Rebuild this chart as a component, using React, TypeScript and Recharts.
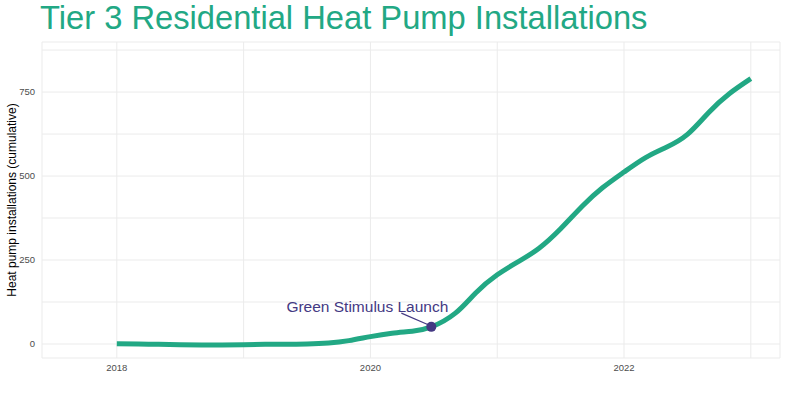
import React from 'react';
import {
  LineChart,
  Line,
  XAxis,
  YAxis,
  CartesianGrid,
  ReferenceDot,
  ReferenceLine,
} from 'recharts';

// decimal year of each reading
const years = [
  2018.0, 2018.17, 2018.33, 2018.5, 2018.67, 2018.83, 2019.0, 2019.17, 2019.33, 2019.5,
  2019.67, 2019.83, 2020.0, 2020.17, 2020.33, 2020.48, 2020.67, 2020.83, 2021.0, 2021.17,
  2021.33, 2021.5, 2021.67, 2021.83, 2022.0, 2022.17, 2022.33, 2022.5, 2022.67, 2022.83,
  2023.0,
];

// cumulative installations
const installs = [
  1, 0, -1, -2, -3, -3, -2, -1, -1, 0,
  3, 10, 22, 32, 38, 51, 92, 152, 206, 246,
  285, 343, 410, 465, 512, 555, 585, 624, 690, 745,
  790,
];

const xTicks = [2018, 2019, 2020, 2021, 2022, 2023];
const xLabels = [2018, 2020, 2022];
const yTicks = [0, 125, 250, 375, 500, 625, 750, 875];
const yLabels = [0, 250, 500, 750];

const launchYear = 2020.48;
const launchValue = 51;
const launchLabel = 'Green Stimulus Launch';

const title = 'Tier 3 Residential Heat Pump Installations';
const yTitle = 'Heat pump installations (cumulative)';

const data = years.map((year, i) => ({ year, installs: installs[i] }));

const FONT = '"Liberation Sans", Arial, sans-serif';
const GREEN = '#22a884';
const PURPLE = '#443983';

export default function App() {
  return (
    <div style={{ position: 'relative', width: 787, height: 393, fontFamily: FONT, background: '#fff' }}>
      <style>{`body{margin:0}`}</style>
      <div
        style={{
          position: 'absolute',
          left: 40,
          top: 0,
          fontSize: 32.7,
          color: GREEN,
          whiteSpace: 'nowrap',
          lineHeight: '35px',
        }}
      >
        {title}
      </div>
      <div
        style={{
          position: 'absolute',
          left: 12,
          top: 200,
          fontSize: 12,
          color: '#000',
          whiteSpace: 'nowrap',
          transform: 'translate(-50%, -50%) rotate(-90deg)',
        }}
      >
        {yTitle}
      </div>
      <LineChart
        width={787}
        height={393}
        data={data}
        margin={{ top: 42, right: 7, bottom: 0, left: 0 }}
      >
        <CartesianGrid stroke="#ebebeb" strokeWidth={1} />
        <XAxis
          dataKey="year"
          type="number"
          domain={[2017.41, 2023.23]}
          ticks={xTicks}
          tickFormatter={(v: number) => (xLabels.includes(v) ? String(v) : '')}
          axisLine={false}
          tickLine={false}
          height={35}
          tickMargin={0}
          tick={{ fontSize: 9.5, fill: '#4d4d4d', fontFamily: FONT }}
        />
        <YAxis
          type="number"
          domain={[-41.7, 899]}
          ticks={yTicks}
          tickFormatter={(v: number) => (yLabels.includes(v) ? String(v) : '')}
          axisLine={false}
          tickLine={false}
          width={42}
          tickMargin={1}
          tick={{ fontSize: 9.5, fill: '#4d4d4d', fontFamily: FONT }}
        />
        <Line
          type="natural"
          dataKey="installs"
          stroke={GREEN}
          strokeWidth={5}
          dot={false}
          isAnimationActive={false}
        />
        <ReferenceLine
          segment={[
            { x: 2020.244, y: 92 },
            { x: 2020.465, y: 56 },
          ]}
          stroke={PURPLE}
          strokeWidth={1.2}
        />
        <ReferenceDot
          x={launchYear}
          y={launchValue}
          r={5}
          fill={PURPLE}
          stroke="none"
        />
        <ReferenceDot
          x={2019.976}
          y={113}
          r={0}
          fill="none"
          stroke="none"
          label={{ value: launchLabel, position: 'center', fill: PURPLE, fontSize: 15.5, fontFamily: FONT }}
        />
      </LineChart>
    </div>
  );
}
